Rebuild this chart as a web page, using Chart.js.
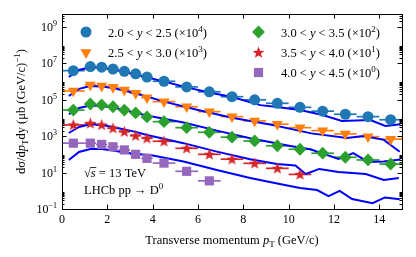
<!DOCTYPE html>
<html>
<head>
<meta charset="utf-8">
<script src="https://cdn.jsdelivr.net/npm/chart.js@4.4.1/dist/chart.umd.min.js"></script>
<style>
  html, body { margin: 0; padding: 0; background: #ffffff; }
  #wrap { width: 416px; height: 257px; }
</style>
</head>
<body>
<div id="wrap"><canvas id="chart" width="416" height="257"></canvas></div>
<script>
// pT bin centres and half widths (GeV/c)
const ptCenters = [0.5, 1.25, 1.75, 2.25, 2.75, 3.25, 3.75, 4.5, 5.5, 6.5, 7.5, 8.5, 9.5, 10.5, 11.5, 12.5, 13.5, 14.5];
const ptHalfWidths = [0.5, 0.25, 0.25, 0.25, 0.25, 0.25, 0.25, 0.5, 0.5, 0.5, 0.5, 0.5, 0.5, 0.5, 0.5, 0.5, 0.5, 0.5];

// measured cross sections, already multiplied by the legend factor
const sigmaY20 = [3.9e6, 6.5e6, 6.0e6, 4.8e6, 3.6e6, 2.6e6, 1.74e6, 1.02e6, 5.0e5, 2.7e5, 1.45e5, 9.8e4, 6.3e4, 3.8e4, 2.34e4, 1.58e4, 1.17e4, 7.9e3];
const sigmaY25 = [3.0e5, 6.5e5, 5.6e5, 4.8e5, 3.4e5, 2.24e5, 1.29e5, 7.8e4, 4.1e4, 2.19e4, 1.17e4, 6.8e3, 4.5e3, 2.9e3, 2.0e3, 1.32e3, 930, 680];
const sigmaY30 = [2.69e4, 5.75e4, 5.13e4, 4.07e4, 2.69e4, 1.86e4, 1.12e4, 6.2e3, 2.9e3, 1.62e3, 870, 540, 295, 190, 115, 69, 49, 29.5];
const sigmaY35 = [4.1e3, 5.0e3, 4.1e3, 2.7e3, 1.74e3, 1.05e3, 760, 520, 214, 100, 54, 32, 17, 7.9];
const sigmaY40 = [410, 410, 350, 260, 174, 100, 60, 33, 11.7, 3.5];

// model curves (blue lines)
const modelPt20 = [0.3, 0.75, 1.25, 1.75, 2.25, 2.75, 3.25, 3.75, 4.5, 5.5, 6.5, 7.5, 8.75, 9.5, 10.5, 11.5, 12.35, 13.6, 14.27, 14.93];
const modelY20 = [1.74e6, 4.27e6, 5.9e6, 5.5e6, 4.57e6, 3.31e6, 2.4e6, 1.66e6, 1.0e6, 4.7e5, 2.45e5, 1.41e5, 5.0e4, 4.0e4, 2.7e4, 1.45e4, 6.8e3, 7.6e3, 3.6e3, 4.5e3];
const modelPt25 = [0.3, 0.75, 1.25, 1.75, 2.25, 2.75, 3.25, 3.75, 4.5, 6.0, 7.5, 9.3, 11.0, 12.57, 13.3, 14.2, 14.9];
const modelY25 = [1.58e5, 3.9e5, 5.6e5, 5.25e5, 4.37e5, 3.16e5, 2.19e5, 1.48e5, 7.8e4, 2.7e4, 1.02e4, 4.1e3, 1.41e3, 790, 1020, 620, 138];
const modelPt30 = [0.3, 0.75, 1.25, 1.75, 2.25, 2.75, 3.25, 3.75, 5.36, 6.83, 8.3, 10.07, 10.95, 12.2, 12.85, 13.5, 14.2, 14.93];
const modelY30 = [1.62e4, 3.47e4, 4.8e4, 4.47e4, 3.7e4, 2.69e4, 1.86e4, 1.35e4, 5.5e3, 2.0e3, 760, 290, 190, 55, 117, 38, 40, 52];
const modelPt35 = [0.3, 0.75, 1.25, 1.75, 2.25, 2.75, 3.25, 3.75, 5.36, 6.83, 8.3, 9.48, 10.3, 10.75, 11.35, 12.2, 13.4, 14.2, 14.86];
const modelY35 = [1.48e3, 3.16e3, 4.4e3, 4.1e3, 3.16e3, 2.29e3, 1.7e3, 1.15e3, 410, 141, 54, 29.5, 24.5, 8.3, 15.8, 10.7, 8.3, 3.9, 5.0];
const modelPt40 = [0.3, 0.75, 1.25, 1.75, 2.25, 2.75, 3.25, 3.89, 5.36, 6.83, 8.3, 9.33, 10.5, 11.25, 11.76, 12.25, 12.8, 13.7, 14.25, 14.9];
const modelY40 = [49, 135, 195, 195, 162, 126, 105, 91, 40, 13.8, 5.0, 2.75, 1.41, 1.10, 0.51, 0.98, 0.35, 0.21, 0.43, 0.34];

const xTicks = [0, 2, 4, 6, 8, 10, 12, 14];
const yTickExponents = [-1, 1, 3, 5, 7, 9];

const serif = '"Liberation Serif", "DejaVu Serif", serif';
const lineBlue = "#0000ff";

function makeStar(color) {
  const c = document.createElement("canvas");
  c.width = 13;
  c.height = 13;
  const g = c.getContext("2d");
  g.fillStyle = color;
  g.beginPath();
  for (let i = 0; i < 10; i++) {
    const r = i % 2 === 0 ? 6.2 : 2.6;
    const a = -Math.PI / 2 + (i * Math.PI) / 5;
    g.lineTo(6.5 + r * Math.cos(a), 6.8 + r * Math.sin(a));
  }
  g.closePath();
  g.fill();
  return c;
}

const series = [
  { values: sigmaY20, color: "#1f77b4", style: "circle", radius: 5.5, rotation: 0, label: ["2.0 < ", "y", " < 2.5 (×10", "4", ")"] },
  { values: sigmaY25, color: "#ff7f0e", style: "triangle", radius: 6.4, rotation: 180, label: ["2.5 < ", "y", " < 3.0 (×10", "3", ")"] },
  { values: sigmaY30, color: "#2ca02c", style: "rectRot", radius: 6.4, rotation: 0, label: ["3.0 < ", "y", " < 3.5 (×10", "2", ")"] },
  { values: sigmaY35, color: "#d62728", style: makeStar("#d62728"), radius: 6, rotation: 0, label: ["3.5 < ", "y", " < 4.0 (×10", "1", ")"] },
  { values: sigmaY40, color: "#9467bd", style: "rect", radius: 6.5, rotation: 0, label: ["4.0 < ", "y", " < 4.5 (×10", "0", ")"] },
];

const models = [
  [modelPt20, modelY20],
  [modelPt25, modelY25],
  [modelPt30, modelY30],
  [modelPt35, modelY35],
  [modelPt40, modelY40],
];

function points(xs, ys) {
  return ys.map(function (y, i) {
    return { x: xs[i], y: y };
  });
}

const datasets = [];
models.forEach(function (m) {
  datasets.push({
    data: points(m[0], m[1]),
    showLine: true,
    borderColor: lineBlue,
    borderWidth: 2,
    pointRadius: 0,
    fill: false,
    order: 2,
  });
});
series.forEach(function (s) {
  datasets.push({
    data: points(ptCenters, s.values),
    xErr: ptHalfWidths,
    backgroundColor: s.color,
    borderWidth: 0,
    pointStyle: s.style,
    pointRadius: s.radius,
    pointRotation: s.rotation,
    order: 1,
  });
});

function fontFor(kind, size) {
  if (kind === "i") return "italic " + size + "px " + serif;
  if (kind === "sup" || kind === "sub") return Math.round(size * 0.7) + "px " + serif;
  return size + "px " + serif;
}

// parts: [[text, kind], ...]
function drawRich(ctx, parts, x, y, size, align) {
  const widths = parts.map(function (p) {
    ctx.font = fontFor(p[1], size);
    return ctx.measureText(p[0]).width;
  });
  const total = widths.reduce(function (a, b) { return a + b; }, 0);
  let cx = align === "right" ? x - total : align === "center" ? x - total / 2 : x;
  parts.forEach(function (p, i) {
    ctx.font = fontFor(p[1], size);
    let dy = 0;
    if (p[1] === "sup") dy = -size * 0.4;
    if (p[1] === "sub") dy = size * 0.22;
    ctx.fillText(p[0], cx, y + dy);
    cx += widths[i];
  });
  return total;
}

const errorBars = {
  id: "xErrorBars",
  beforeDatasetsDraw: function (chart) {
    const ctx = chart.ctx;
    const xs = chart.scales.x;
    const ys = chart.scales.y;
    const a = chart.chartArea;
    ctx.save();
    ctx.beginPath();
    ctx.rect(a.left, a.top, a.right - a.left, a.bottom - a.top);
    ctx.clip();
    ctx.lineWidth = 1.7;
    chart.data.datasets.forEach(function (ds) {
      if (!ds.xErr) return;
      ctx.strokeStyle = ds.backgroundColor;
      ds.data.forEach(function (p, i) {
        const py = ys.getPixelForValue(p.y);
        ctx.beginPath();
        ctx.moveTo(xs.getPixelForValue(p.x - ds.xErr[i]), py);
        ctx.lineTo(xs.getPixelForValue(p.x + ds.xErr[i]), py);
        ctx.stroke();
      });
    });
    ctx.restore();
  },
};

const frameAndText = {
  id: "frameAndText",
  afterDraw: function (chart) {
    const ctx = chart.ctx;
    const xs = chart.scales.x;
    const ys = chart.scales.y;
    const a = chart.chartArea;
    ctx.save();
    ctx.strokeStyle = "#000";
    ctx.fillStyle = "#000";
    ctx.lineWidth = 1;

    // ticks, pointing inward on all four sides
    ctx.beginPath();
    xTicks.forEach(function (t) {
      const px = Math.round(xs.getPixelForValue(t)) + 0.5;
      ctx.moveTo(px, a.bottom);
      ctx.lineTo(px, a.bottom - 4.5);
      ctx.moveTo(px, a.top);
      ctx.lineTo(px, a.top + 4.5);
    });
    yTickExponents.forEach(function (e) {
      const py = Math.round(ys.getPixelForValue(Math.pow(10, e))) + 0.5;
      ctx.moveTo(a.left, py);
      ctx.lineTo(a.left + 4.5, py);
      ctx.moveTo(a.right, py);
      ctx.lineTo(a.right - 4.5, py);
      for (let k = 2; k <= 9; k++) {
        const v = k * Math.pow(10, e);
        if (v > ys.max) continue;
        const pm = Math.round(ys.getPixelForValue(v)) + 0.5;
        ctx.moveTo(a.left, pm);
        ctx.lineTo(a.left + 2.5, pm);
        ctx.moveTo(a.right, pm);
        ctx.lineTo(a.right - 2.5, pm);
      }
    });
    ctx.stroke();

    ctx.strokeRect(Math.round(a.left) + 0.5, Math.round(a.top) + 0.5, Math.round(a.right - a.left), Math.round(a.bottom - a.top));

    // tick labels
    ctx.textBaseline = "alphabetic";
    ctx.textAlign = "left";
    xTicks.forEach(function (t) {
      drawRich(ctx, [[String(t), "n"]], xs.getPixelForValue(t), a.bottom + 14, 12, "center");
    });
    yTickExponents.forEach(function (e) {
      const py = ys.getPixelForValue(Math.pow(10, e));
      const sup = e < 0 ? "−" + Math.abs(e) : String(e);
      drawRich(ctx, [["10", "n"], [sup, "sup"]], a.left - 5, py + 4, 12, "right");
    });

    // axis titles
    drawRich(ctx, [["Transverse momentum ", "n"], ["p", "i"], ["T", "sub"], [" (GeV/c)", "n"]], (a.left + a.right) / 2, 244, 12.5, "center");
    ctx.save();
    ctx.translate(25, (a.top + a.bottom) / 2);
    ctx.rotate(-Math.PI / 2);
    drawRich(ctx, [["dσ/d", "n"], ["p", "i"], ["T", "sub"], ["dy (μb (GeV/c)", "n"], ["−1", "sup"], [")", "n"]], 0, 0, 12.5, "center");
    ctx.restore();

    // legend
    const rowsY = [32, 52.5, 72.5];
    series.forEach(function (s, i) {
      const col = i < 2 ? 0 : 1;
      const row = i < 2 ? i : i - 2;
      const mx = col === 0 ? 86 : 258.5;
      const tx = col === 0 ? 108 : 281;
      const my = rowsY[row];
      ctx.fillStyle = s.color;
      Chart.helpers.drawPoint(ctx, { pointStyle: s.style, radius: s.radius, rotation: s.rotation, borderWidth: 0 }, mx, my);
      ctx.fillStyle = "#000";
      const lp = s.label;
      drawRich(ctx, [[lp[0], "n"], [lp[1], "i"], [lp[2], "n"], [lp[3], "sup"], [lp[4], "n"]], tx, my + 4.5, 12.5, "left");
    });

    // annotations
    ctx.font = "12.5px " + serif;
    const x0 = 84;
    const rootW = ctx.measureText("√").width;
    ctx.fillText("√", x0, 177);
    ctx.font = "italic 12.5px " + serif;
    const sW = ctx.measureText("s").width;
    ctx.fillText("s", x0 + rootW, 177);
    ctx.beginPath();
    ctx.lineWidth = 0.8;
    ctx.moveTo(x0 + rootW - 0.5, 167.5);
    ctx.lineTo(x0 + rootW + sW + 0.5, 167.5);
    ctx.stroke();
    drawRich(ctx, [[" = 13 TeV", "n"]], x0 + rootW + sW, 177, 12.5, "left");
    drawRich(ctx, [["LHCb pp → D", "n"], ["0", "sup"]], x0, 194, 12.5, "left");

    ctx.restore();
  },
};

new Chart(document.getElementById("chart"), {
  type: "scatter",
  data: { datasets: datasets },
  options: {
    responsive: false,
    animation: false,
    layout: { padding: { left: 62, right: 14, top: 14, bottom: 48 } },
    plugins: {
      legend: { display: false },
      tooltip: { enabled: false },
    },
    scales: {
      x: { type: "linear", min: 0, max: 15, display: false },
      y: { type: "logarithmic", min: 0.1, max: 5e9, display: false },
    },
  },
  plugins: [errorBars, frameAndText],
});
</script>
</body>
</html>
